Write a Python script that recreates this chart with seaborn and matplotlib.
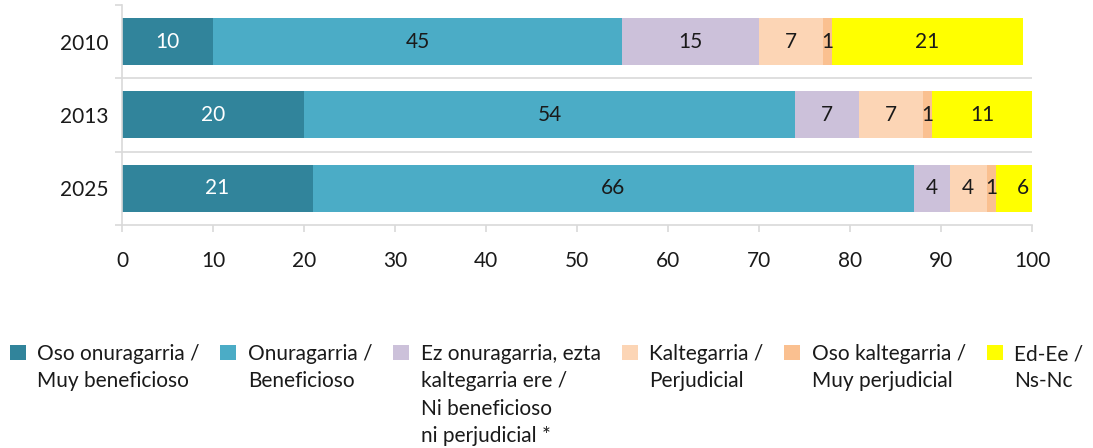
import matplotlib
matplotlib.use("Agg")
import matplotlib.pyplot as plt
import matplotlib.patches as mpatches
from matplotlib.legend_handler import HandlerPatch
import seaborn as sns
import numpy as np
import pandas as pd

years = ["2010", "2013", "2025"]
series_names = [
    "Oso onuragarria /\nMuy beneficioso",
    "Onuragarria /\nBeneficioso",
    "Ez onuragarria, ezta\nkaltegarria ere /\nNi beneficioso\nni perjudicial *",
    "Kaltegarria /\nPerjudicial",
    "Oso kaltegarria /\nMuy perjudicial",
    "Ed-Ee /\nNs-Nc",
]
oso_onuragarria = [10, 20, 21]
onuragarria = [45, 54, 66]
ez_onuragarria = [15, 7, 4]
kaltegarria = [7, 7, 4]
oso_kaltegarria = [1, 1, 1]
ed_ee = [21, 11, 6]
x_ticks = [0, 10, 20, 30, 40, 50, 60, 70, 80, 90, 100]

colors = ["#31849B", "#4BACC6", "#CCC1DA", "#FCD5B5", "#FAC090", "#FFFF00"]
label_colors = ["white", "#1a1a1a", "#1a1a1a", "#1a1a1a", "#1a1a1a", "#1a1a1a"]

sns.set_theme(style="white")
plt.rcParams["font.family"] = ["Lato", "DejaVu Sans"]

series = [oso_onuragarria, onuragarria, ez_onuragarria, kaltegarria, oso_kaltegarria, ed_ee]
vals = np.array(series, dtype=float)
cum = np.cumsum(vals, axis=0)
lefts = cum - vals

fig = plt.figure(figsize=(10.93, 4.48), dpi=100)
ax = fig.add_axes([0.1116, 0.498, 0.9442 - 0.1116, 0.989 - 0.498])

# draw cumulative totals from last to first so earlier segments sit on top
for i in range(len(series) - 1, -1, -1):
    df = pd.DataFrame({"year": years, "value": cum[i]})
    sns.barplot(data=df, x="value", y="year", orient="h", color=colors[i],
                saturation=1, width=0.64, errorbar=None, ax=ax, linewidth=0)

ax.set_xlim(0, 100)
ax.set_ylim(2.5, -0.5)
ax.set_xticks(x_ticks)
ax.set_xlabel("")
ax.set_ylabel("")

fs = 15
for i in range(len(series)):
    for j in range(len(years)):
        c = lefts[i, j] + vals[i, j] / 2
        c = min(c, 99)
        ax.text(c, j, f"{int(vals[i, j])}", ha="center", va="center",
                fontsize=fs, color=label_colors[i])

grey = "#D9D9D9"
for s in ["top", "right"]:
    ax.spines[s].set_visible(False)
for s in ["left", "bottom"]:
    ax.spines[s].set_color(grey)
    ax.spines[s].set_linewidth(1.2)

for yb in [0.5, 1.5]:
    ax.axhline(yb, color=grey, linewidth=1.2, zorder=0.5)

ax.set_yticks([-0.5, 0.5, 1.5, 2.5], minor=True)
ax.tick_params(axis="y", which="major", length=0, pad=10, labelsize=fs, labelcolor="#1a1a1a")
ax.tick_params(axis="y", which="minor", length=5, width=1.2, color=grey, direction="out", left=True)
ax.tick_params(axis="x", which="major", length=5, width=1.2, color=grey, direction="out",
               bottom=True, pad=14, labelsize=fs, labelcolor="#1a1a1a")

# legend: handle aligned with the first line of each (top-aligned) label
nlines = max(n.count("\n") + 1 for n in series_names)
padded = [n + "\n " * (nlines - 1 - n.count("\n")) for n in series_names]
LS = 1.45


def top_patch(legend, orig_handle, xdescent, ydescent, width, height, fontsize):
    off = 1.5 * fontsize * 1.22 + 3.5
    return mpatches.Rectangle((-xdescent, -ydescent + off), width, height)


handles = [mpatches.Patch(color=c, linewidth=0) for c in colors]
leg = fig.legend(handles, padded, loc="upper left",
                 bbox_to_anchor=(0.003, 1 - 338 / 448), ncol=6,
                 frameon=False, fontsize=fs, handlelength=0.77, handleheight=0.72,
                 handletextpad=0.55, columnspacing=1.0, labelspacing=0.3,
                 borderaxespad=0, borderpad=0.3,
                 handler_map={mpatches.Patch: HandlerPatch(patch_func=top_patch)})
for t in leg.get_texts():
    t.set_linespacing(LS)
    t.set_color("#1a1a1a")

fig.savefig("out.png", dpi=100)
